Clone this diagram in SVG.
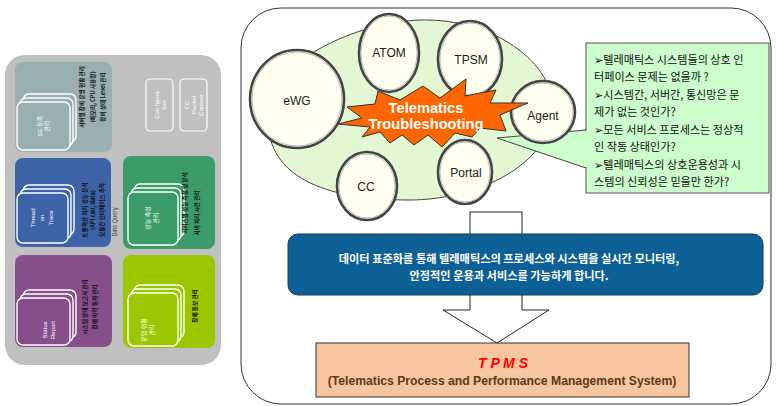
<svg xmlns="http://www.w3.org/2000/svg" width="777" height="406" viewBox="0 0 777 406">
<style>
.kr{font-family:"Noto Sans CJK KR","Liberation Sans",sans-serif}
.en{font-family:"Liberation Sans",Arial,sans-serif}
.tiletxt{font-family:"Noto Sans CJK KR","Liberation Sans",sans-serif;font-size:5.6px;font-weight:bold;fill:#111;text-anchor:middle}
.sqtxt{font-family:"Liberation Sans","Noto Sans CJK KR",sans-serif;font-size:6px;fill:#fff;text-anchor:middle}
.sq{stroke:#fff;stroke-width:1.4}
.node{fill:#fffff0;stroke:#444;stroke-width:2.6}
.node2{fill:none;stroke:#aaa;stroke-width:0.8}
.lbl{font-family:"Liberation Sans",Arial,sans-serif;font-size:12px;fill:#222;text-anchor:middle}
.co{font-family:"Noto Sans CJK KR","DejaVu Sans",sans-serif;font-size:11.1px;fill:#111}
</style>

<!-- Left panel -->
<g id="left-panel">
  <rect x="5" y="55" width="216" height="310" rx="20" fill="#c0c0c0"/>
</g>

<g id="tile-se">
  <rect x="15" y="62" width="97" height="90" rx="8" fill="#9aafaf"/>
  <rect x="23" y="94" width="53" height="48" rx="6" fill="#9aafaf" class="sq"/>
  <rect x="20" y="98" width="53" height="48" rx="6" fill="#9aafaf" class="sq"/>
  <rect x="17" y="102" width="53" height="48" rx="6" fill="#9aafaf" class="sq"/>
  <text class="sqtxt" transform="translate(42,126) rotate(-90)">SE 등록</text>
  <text class="sqtxt" transform="translate(49,126) rotate(-90)">관리</text>
  <text class="tiletxt" transform="translate(84,97) rotate(-90)">서버별 장비 운영 현황 관리</text>
  <text class="tiletxt" transform="translate(95,97) rotate(-90)">(메모리, CPU 사용량)</text>
  <text class="tiletxt" transform="translate(105,97) rotate(-90)">장비 상태 Level 관리</text>
</g>

<g id="box-config">
  <rect x="146" y="79" width="27" height="52" rx="4" fill="none" stroke="#fff" stroke-width="1.2"/>
  <text class="sqtxt" transform="translate(159,105) rotate(-90)">Con figura</text>
  <text class="sqtxt" transform="translate(166,105) rotate(-90)">tion</text>
</g>
<g id="box-cc-capture">
  <rect x="180" y="79" width="27" height="52" rx="4" fill="none" stroke="#fff" stroke-width="1.2"/>
  <text class="sqtxt" transform="translate(189,105) rotate(-90)">CC</text>
  <text class="sqtxt" transform="translate(196,105) rotate(-90)">Packet</text>
  <text class="sqtxt" transform="translate(203,105) rotate(-90)">Capture</text>
</g>

<g id="tile-thread">
  <rect x="15" y="158" width="96" height="89" rx="8" fill="#3d63a9"/>
  <rect x="23" y="185" width="51" height="50" rx="6" fill="#3d63a9" class="sq"/>
  <rect x="20" y="189" width="51" height="50" rx="6" fill="#3d63a9" class="sq"/>
  <rect x="17" y="193" width="51" height="50" rx="6" fill="#3d63a9" class="sq"/>
  <text class="sqtxt" transform="translate(35,218) rotate(-90)">Thread</text>
  <text class="sqtxt" transform="translate(44,218) rotate(-90)">on</text>
  <text class="sqtxt" transform="translate(53,218) rotate(-90)">Trace</text>
  <text class="tiletxt" transform="translate(87,210) rotate(-90)">트랜잭션 처리 성능 분석</text>
  <text class="tiletxt" transform="translate(95,210) rotate(-90)">(API call, data)</text>
  <text class="tiletxt" transform="translate(104,210) rotate(-90)">모듈간 인터페이스 추적</text>
  <text class="tiletxt" transform="translate(117,222) rotate(-90)" style="font-weight:normal;fill:#333">Date Query</text>
</g>

<g id="tile-perf">
  <rect x="123" y="156" width="92" height="93" rx="8" fill="#3b9c68"/>
  <rect x="134" y="184" width="50" height="53" rx="6" fill="#3b9c68" class="sq"/>
  <rect x="131" y="188" width="50" height="53" rx="6" fill="#3b9c68" class="sq"/>
  <rect x="128" y="192" width="50" height="53" rx="6" fill="#3b9c68" class="sq"/>
  <text class="sqtxt" transform="translate(150,218) rotate(-90)">성능 측정</text>
  <text class="sqtxt" transform="translate(158,218) rotate(-90)">관리</text>
  <text class="tiletxt" transform="translate(187,203) rotate(-90)">서비스별 성능 측정 및 분석</text>
  <text class="tiletxt" transform="translate(199,213) rotate(-90)">서버 처리 시간 관리</text>
</g>

<g id="tile-status">
  <rect x="15" y="255" width="97" height="92" rx="8" fill="#874e8c"/>
  <rect x="23" y="290" width="53" height="48" rx="6" fill="#874e8c" class="sq"/>
  <rect x="20" y="294" width="53" height="48" rx="6" fill="#874e8c" class="sq"/>
  <rect x="17" y="298" width="53" height="47" rx="6" fill="#874e8c" class="sq"/>
  <text class="sqtxt" transform="translate(47,330) rotate(-90)">Status</text>
  <text class="sqtxt" transform="translate(55,330) rotate(-90)">Report</text>
  <text class="tiletxt" transform="translate(87,307) rotate(-90)">시스템 상태 보고서 관리</text>
  <text class="tiletxt" transform="translate(97,307) rotate(-90)">장애 이력 통계 관리</text>
</g>

<g id="tile-alarm">
  <rect x="123" y="255" width="92" height="93" rx="8" fill="#9bc600"/>
  <rect x="134" y="285" width="50" height="53" rx="6" fill="#9bc600" class="sq"/>
  <rect x="131" y="289" width="50" height="53" rx="6" fill="#9bc600" class="sq"/>
  <rect x="128" y="293" width="50" height="53" rx="6" fill="#9bc600" class="sq"/>
  <text class="sqtxt" transform="translate(146,330) rotate(-90)">운영 현황</text>
  <text class="sqtxt" transform="translate(154,330) rotate(-90)">관리</text>
  <text class="tiletxt" transform="translate(197,306) rotate(-90)">장애 통보 관리</text>
</g>

<!-- Right panel frame -->
<g id="right-panel">
  <rect x="241" y="8" width="530" height="396" rx="40" fill="#fff" stroke="#333" stroke-width="1"/>
  <path d="M268,125 C262,60 360,22 420,20 C500,18 560,70 552,115 C545,170 470,200 410,200 C330,200 272,180 268,125 Z" fill="#e2f7d2" stroke="#444" stroke-width="1"/>
</g>

<!-- Connectors: block arrow and callout pointer -->
<g id="connectors">
  <polygon points="470,212 522,212 522,310 549,310 497,343 443,310 470,310" fill="#fff" stroke="#222" stroke-width="1"/>
  <polygon points="497,138 586,130 586,168" fill="#ccffcc" stroke="#444" stroke-width="1"/>
</g>

<g id="node-ewg">
  <ellipse cx="297" cy="99" rx="47" ry="49" class="node"/>
  <ellipse cx="297" cy="99" rx="45" ry="47" class="node2"/>
  <text class="lbl" x="297" y="105">eWG</text>
</g>
<g id="node-atom">
  <ellipse cx="389" cy="53" rx="30" ry="39" class="node"/>
  <ellipse cx="389" cy="53" rx="28" ry="37" class="node2"/>
  <text class="lbl" x="389" y="57">ATOM</text>
</g>
<g id="node-tpsm">
  <ellipse cx="470" cy="59" rx="32" ry="38" class="node"/>
  <ellipse cx="470" cy="59" rx="30" ry="36" class="node2"/>
  <text class="lbl" x="471" y="64">TPSM</text>
</g>
<g id="node-agent">
  <ellipse cx="543" cy="112" rx="32" ry="31" class="node"/>
  <ellipse cx="543" cy="112" rx="30" ry="29" class="node2"/>
  <text class="lbl" x="543" y="120">Agent</text>
</g>
<g id="node-cc">
  <ellipse cx="367" cy="186" rx="30" ry="34" class="node"/>
  <ellipse cx="367" cy="186" rx="28" ry="32" class="node2"/>
  <text class="lbl" x="366" y="191">CC</text>
</g>
<g id="node-portal">
  <ellipse cx="465" cy="172" rx="27" ry="32" class="node"/>
  <ellipse cx="465" cy="172" rx="25" ry="30" class="node2"/>
  <text class="lbl" x="466" y="177">Portal</text>
</g>

<g id="node-troubleshooting">
  <polygon points="338,124 362,118 347,107 375,104 378,91 400,100 423,86 440,98 466,79 465,96 496,90 490,103 528,103 500,115 506,131 480,128 472,137 455,133 442,147 428,135 414,145 402,135 390,143 380,132 362,137 370,127" fill="#ff6600" stroke="#333" stroke-width="1"/>
  <text class="en" x="426" y="113" font-size="14.7" font-weight="bold" fill="#fff" text-anchor="middle">Telematics</text>
  <text class="en" x="426" y="129" font-size="14.7" font-weight="bold" fill="#fff" text-anchor="middle">Troubleshooting</text>
</g>

<!-- Callout box -->
<g id="node-callout">
  <rect x="586" y="43" width="183" height="150" fill="#ccffcc" stroke="#555" stroke-width="1"/>
  <line x1="586" y1="131" x2="586" y2="167" stroke="#ccffcc" stroke-width="2"/>
  <text class="co" x="594" y="64">➢텔레매틱스 시스템들의 상호 인</text>
  <text class="co" x="594" y="81">터페이스 문제는 없을까 ?</text>
  <text class="co" x="594" y="99">➢시스템간, 서버간, 통신망은 문</text>
  <text class="co" x="594" y="116">제가 없는 것인가?</text>
  <text class="co" x="594" y="134">➢모든 서비스 프로세스는 정상적</text>
  <text class="co" x="594" y="151">인 작동 상태인가?</text>
  <text class="co" x="594" y="169">➢텔레매틱스의 상호운용성과 시</text>
  <text class="co" x="594" y="186">스템의 신뢰성은 믿을만 한가?</text>
</g>

<!-- Blue band -->
<g id="node-summary">
  <rect x="288" y="234" width="475" height="61" rx="10" fill="#0c6096" stroke="#1b3b55" stroke-width="1"/>
  <text class="kr" x="509" y="263" font-size="11.2" font-weight="bold" fill="#fff" text-anchor="middle">데이터 표준화를 통해 텔레매틱스의 프로세스와 시스템을 실시간 모니터링,</text>
  <text class="kr" x="509" y="280" font-size="11.2" font-weight="bold" fill="#fff" text-anchor="middle">안정적인 운용과 서비스를 가능하게 합니다.</text>
</g>

<!-- TPMS box -->
<g id="node-tpms">
  <rect x="316" y="343" width="373" height="54" fill="#f7c6a0" stroke="#333" stroke-width="1"/>
  <text class="en" x="503" y="368" font-size="14" font-weight="bold" font-style="italic" fill="#ff0000" text-anchor="middle">T P M S</text>
  <text class="en" x="502" y="385" font-size="12.2" font-weight="bold" fill="#5a3a1a" text-anchor="middle">(Telematics Process and Performance Management System)</text>
</g>
</svg>
